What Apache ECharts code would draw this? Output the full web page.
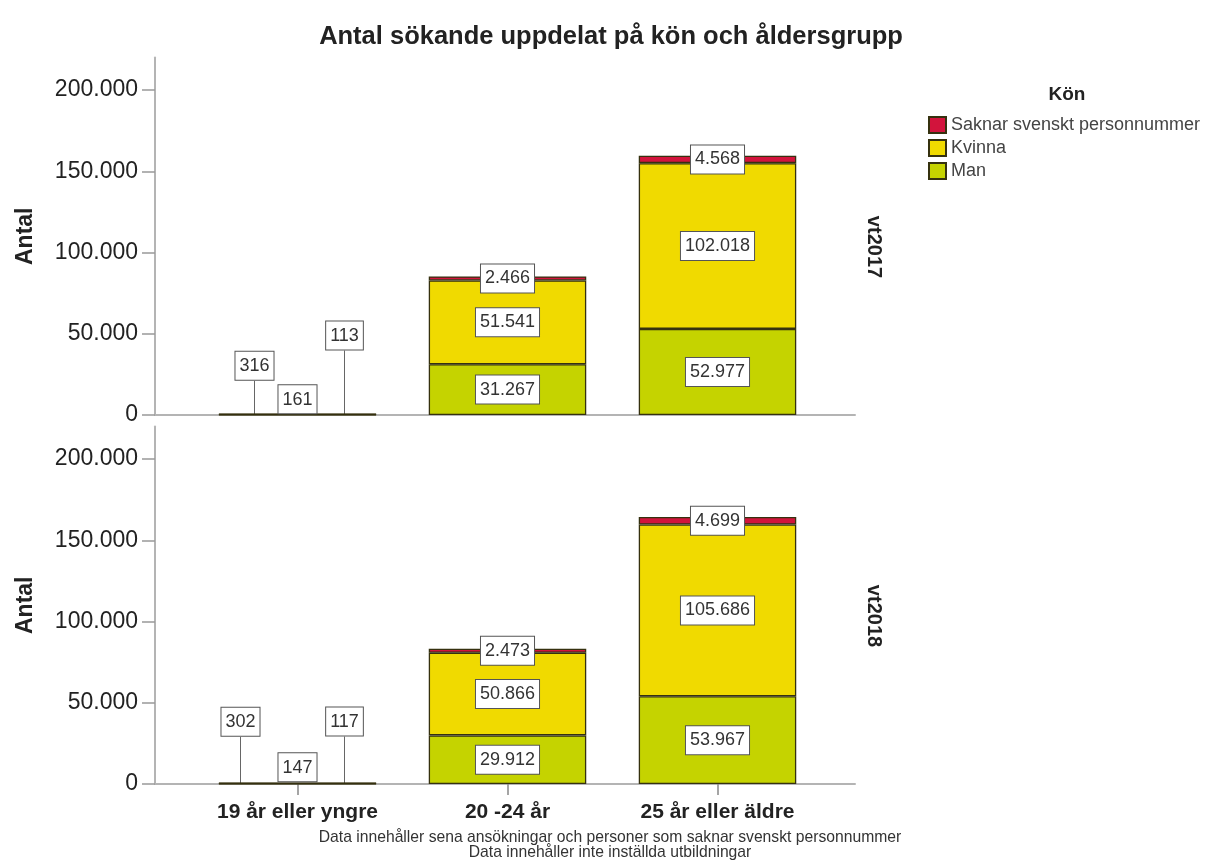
<!DOCTYPE html>
<html>
<head>
<meta charset="utf-8">
<script src="https://cdn.jsdelivr.net/npm/echarts@6/dist/echarts.min.js"></script>
<style>
html,body{margin:0;padding:0;background:#fff;}
#chart{width:1222px;height:863px;}
</style>
</head>
<body>
<div id="chart"></div>
<script>
// ---- data ----
const categories = ['19 år eller yngre', '20 -24 år', '25 år eller äldre'];
const seriesNames = ['Man', 'Kvinna', 'Saknar svenskt personnummer'];
const panels = ['vt2017', 'vt2018'];
const man2017 = [161, 31267, 52977];
const kvinna2017 = [316, 51541, 102018];
const saknar2017 = [113, 2466, 4568];
const man2018 = [147, 29912, 53967];
const kvinna2018 = [302, 50866, 105686];
const saknar2018 = [117, 2473, 4699];
const yTicks = [0, 50000, 100000, 150000, 200000];
const yMax = 220000;
const titleText = 'Antal sökande uppdelat på kön och åldersgrupp';
const legendTitle = 'Kön';
const yName = 'Antal';
const footnote = ['Data innehåller sena ansökningar och personer som saknar svenskt personnummer',
                  'Data innehåller inte inställda utbildningar'];

// ---- styling / layout ----
const panelValues = [[man2017, kvinna2017, saknar2017], [man2018, kvinna2018, saknar2018]];
const colors = ['#c5d300', '#f0da00', '#d2143c'];
const FONT = 'Liberation Sans, Arial, sans-serif';
const panelTops = [57.5, 426.5];
const panelHeight = 357.5;
const axisGray = '#b4b4b4';
// label shifts for the tiny first-category segments (label placement only)
const smallLabelShifts = [
  [[0, -1], [-43, -34], [47, -64]],
  [[0, -2], [-57, -47], [47, -47]]
];
const fmt = v => String(v).replace(/\B(?=(\d{3})+(?!\d))/g, '.');

const grids = [], xAxes = [], yAxes = [], series = [];
panels.forEach((p, pi) => {
  const top = panelTops[pi];
  grids.push({left: 155, top: top, width: 700, height: panelHeight, outerBoundsMode: 'none'});
  grids.push({left: 192.5, top: top, width: 630, height: panelHeight, outerBoundsMode: 'none'});
  const gA = pi * 2, gB = pi * 2 + 1;
  xAxes.push({gridIndex: gA, type: 'value', min: 0, max: 1,
    axisLine: {show: true, lineStyle: {color: axisGray, width: 2}},
    axisTick: {show: false}, axisLabel: {show: false}, splitLine: {show: false}});
  xAxes.push({gridIndex: gB, type: 'category', data: categories,
    show: pi === 1,
    axisLine: {show: false},
    axisTick: {show: true, alignWithLabel: true, length: 11, lineStyle: {color: '#888', width: 1.5}},
    axisLabel: {show: true, margin: 18, fontSize: 21, fontWeight: 'bold', color: '#222', fontFamily: FONT}});
  yAxes.push({gridIndex: gA, type: 'value', min: 0, max: yMax,
    name: yName, nameLocation: 'middle', nameGap: 118, nameRotate: 90,
    nameTextStyle: {fontSize: 23, fontWeight: 'bold', color: '#222', fontFamily: FONT},
    axisLine: {show: true, lineStyle: {color: axisGray, width: 2}},
    axisTick: {show: true, length: 13, customValues: yTicks, lineStyle: {color: '#999', width: 1.5}},
    axisLabel: {show: true, customValues: yTicks, margin: 17, fontSize: 23, color: '#222', fontFamily: FONT,
      formatter: v => fmt(v)},
    splitLine: {show: false}});
  yAxes.push({gridIndex: gB, type: 'value', min: 0, max: yMax, show: false, splitLine: {show: false}});

  seriesNames.forEach((name, si) => {
    const vals = panelValues[pi][si];
    const shift = smallLabelShifts[pi][si];
    series.push({
      type: 'bar', name: name, stack: 'stack' + pi,
      xAxisIndex: gB, yAxisIndex: gB,
      barWidth: '75%',
      itemStyle: {color: colors[si], borderColor: '#35310f', borderWidth: 1.3},
      label: {
        show: true, position: 'inside', offset: [0, si < 2 ? 2 : 0],
        formatter: d => fmt(d.value),
        fontFamily: FONT, fontSize: 18, color: '#333', lineHeight: 21,
        backgroundColor: '#fff', borderColor: '#555', borderWidth: 1,
        padding: [4, 4, 3, 4]
      },
      labelLine: {show: false, lineStyle: {color: '#666', width: 1}},
      labelLayout: params => params.dataIndex === 0 ? {dx: shift[0], dy: shift[1]} : {},
      data: vals.map((v, i) => i === 0 ? {
        value: v,
        label: {position: 'top', distance: 0, offset: [0, 0]},
        labelLine: {show: si > 0, lineStyle: {color: '#666', width: 1}}
      } : v)
    });
  });
});

const chart = echarts.init(document.getElementById('chart'), null, {renderer: 'canvas'});
chart.setOption({
  animation: false,
  backgroundColor: '#fff',
  textStyle: {fontFamily: FONT},
  title: {text: titleText, left: 'center', top: 19,
    textStyle: {fontSize: 25.5, fontWeight: 'bold', color: '#222', fontFamily: FONT}},
  legend: {
    data: seriesNames.slice().reverse(), orient: 'vertical', left: 928, top: 116,
    itemWidth: 17, itemHeight: 16, itemGap: 5, icon: 'rect', padding: 0, itemTextGap: 6,
    textStyle: {fontSize: 18, color: '#444', fontFamily: FONT}
  },
  grid: grids, xAxis: xAxes, yAxis: yAxes, series: series,
  graphic: [
    {type: 'text', x: 1067, y: 95, style: {text: legendTitle, font: 'bold 19px ' + FONT, fill: '#222', align: 'center', verticalAlign: 'middle'}},
    {type: 'text', x: 874, y: 247, rotation: -Math.PI / 2, style: {text: panels[0], font: 'bold 20px ' + FONT, fill: '#222', align: 'center', verticalAlign: 'middle'}},
    {type: 'text', x: 874, y: 616, rotation: -Math.PI / 2, style: {text: panels[1], font: 'bold 20px ' + FONT, fill: '#222', align: 'center', verticalAlign: 'middle'}},
    {type: 'text', x: 610, y: 845.5, style: {text: footnote.join('\n'), font: '15.7px ' + FONT, fill: '#333', align: 'center', verticalAlign: 'middle', lineHeight: 15}}
  ]
});
</script>
</body>
</html>
